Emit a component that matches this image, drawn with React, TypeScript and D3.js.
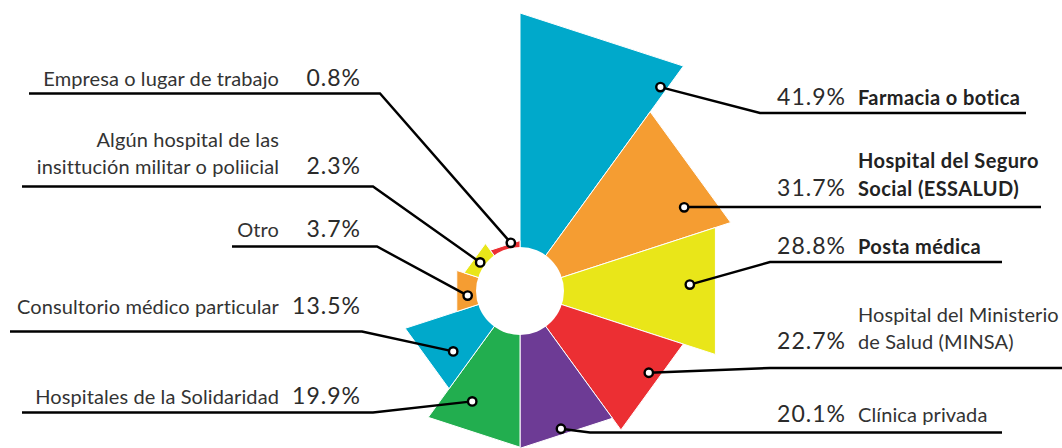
import React from "react";
import * as d3 from "d3";

// categories clockwise from 12 o'clock
const categories = [
  "Farmacia o botica",
  "Hospital del Seguro Social (ESSALUD)",
  "Posta médica",
  "Hospital del Ministerio de Salud (MINSA)",
  "Clínica privada",
  "Hospitales de la Solidaridad",
  "Consultorio médico particular",
  "Otro",
  "Algún hospital de las insittución militar o poliicial",
  "Empresa o lugar de trabajo",
];
const values = [41.9, 31.7, 28.8, 22.7, 20.1, 19.9, 13.5, 3.7, 2.3, 0.8];
const labelLines = [
  ["Farmacia o botica"],
  ["Hospital del Seguro", "Social (ESSALUD)"],
  ["Posta médica"],
  ["Hospital del Ministerio", "de Salud (MINSA)"],
  ["Clínica privada"],
  ["Hospitales de la Solidaridad"],
  ["Consultorio médico particular"],
  ["Otro"],
  ["Algún hospital de las", "insittución militar o poliicial"],
  ["Empresa o lugar de trabajo"],
];
const boldLabels = ["Farmacia o botica", "Hospital del Seguro Social (ESSALUD)", "Posta médica"];
const palette = ["#00a9cb", "#f59d32", "#e9e619", "#ec2f33", "#6d3b95", "#22ae4f"];

const W = 1062;
const H = 448;
const cx = 520;
const cy = 291;
const r0 = 44;

// hand placed callouts: where the dot sits inside its wedge and where the leader goes
const callouts = [
  { side: "r", fa: 0.96, fr: 0.87, elbowX: 760, lineY: 113, endX: 1026, base: [105] },
  { side: "r", fa: 0.75, fr: 0.79, elbowX: 690, lineY: 207, endX: 1041, base: [168, 196] },
  { side: "r", fa: 0.44, fr: 0.78, elbowX: 770, lineY: 262, endX: 1002, base: [253.5] },
  { side: "r", fa: 0.4, fr: 0.85, elbowX: 770, lineY: 368, endX: 1062, base: [322, 348.5] },
  { side: "r", fa: 0.54, fr: 0.88, elbowX: 590, lineY: 432.5, endX: 1002, base: [421.5] },
  { side: "l", fa: 0.65, fr: 0.68, elbowX: 373, lineY: 412.5, endX: 22, base: [403.5] },
  { side: "l", fa: 0.33, fr: 0.6, elbowX: 362, lineY: 331.5, endX: 10, base: [314] },
  { side: "l", fa: 0.36, fr: 0.38, elbowX: 377, lineY: 246.5, endX: 232, base: [237] },
  { side: "l", fa: 0.49, fr: 0.34, elbowX: 373, lineY: 186.5, endX: 22, base: [146.5, 173.5] },
  { side: "l", fa: 0.7, fr: 0.78, elbowX: 380, lineY: 93.5, endX: 29, base: [85.5] },
];

export default function App() {
  const angle = d3.scaleBand<string>().domain(categories).range([0, 2 * Math.PI]);
  const radius = d3.scaleLinear().domain([0, 41.9]).range([46, 278]);
  const color = d3.scaleOrdinal<string, string>().domain(categories).range(palette);

  const wedge = d3
    .lineRadial<[number, number]>()
    .angle((d) => d[0])
    .radius((d) => d[1])
    .curve(d3.curveLinearClosed);

  const font = "Lato, 'Open Sans', sans-serif";

  return (
    <svg
      width={W}
      height={H}
      viewBox={`0 0 ${W} ${H}`}
      style={{ position: "absolute", left: 0, top: 0, background: "#fff" }}
    >
      <g transform={`translate(${cx},${cy})`}>
        {categories.map((c, i) => {
          const a0 = angle(c)!;
          const a1 = a0 + angle.bandwidth();
          const r = radius(values[i]);
          return (
            <path
              key={c}
              d={wedge([
                [a0, 0],
                [a0, r],
                [a1, r],
              ])!}
              fill={color(c)}
              stroke="#fff"
              strokeWidth={1}
              strokeLinejoin="round"
            />
          );
        })}
        <circle r={r0} fill="#fff" />
      </g>

      {categories.map((c, i) => {
        const co = callouts[i];
        const r = radius(values[i]);
        const [px, py] = d3.pointRadial(
          angle(c)! + co.fa * angle.bandwidth(),
          r0 + co.fr * (r - r0)
        );
        const dot: [number, number] = [cx + px, cy + py];
        const path = d3.path();
        path.moveTo(dot[0], dot[1]);
        path.lineTo(co.elbowX, co.lineY);
        path.lineTo(co.endX, co.lineY);
        const bold = boldLabels.includes(c);
        const lines = labelLines[i];
        const pct = `${values[i].toFixed(1)}%`;
        const pctY = co.base[co.base.length - 1];
        const right = co.side === "r";
        return (
          <g key={c}>
            <path d={path.toString()} fill="none" stroke="#000" strokeWidth={2.4} />
            <circle cx={dot[0]} cy={dot[1]} r={4.2} fill="#fff" stroke="#000" strokeWidth={2.4} />
            <text
              x={right ? 846 : 361}
              y={pctY}
              textAnchor="end"
              fontFamily={font}
              fontSize={23}
              letterSpacing={1}
              fill="#2b2b2b"
            >
              {pct}
            </text>
            {lines.map((t, j) => (
              <text
                key={t}
                x={right ? 858 : 279}
                y={co.base[j]}
                textAnchor={right ? "start" : "end"}
                fontFamily={font}
                fontSize={20}
                fontWeight={bold ? 700 : 400}
                letterSpacing={bold ? 0.4 : 0.1}
                fill={bold ? "#222" : "#333"}
              >
                {t}
              </text>
            ))}
          </g>
        );
      })}
    </svg>
  );
}
